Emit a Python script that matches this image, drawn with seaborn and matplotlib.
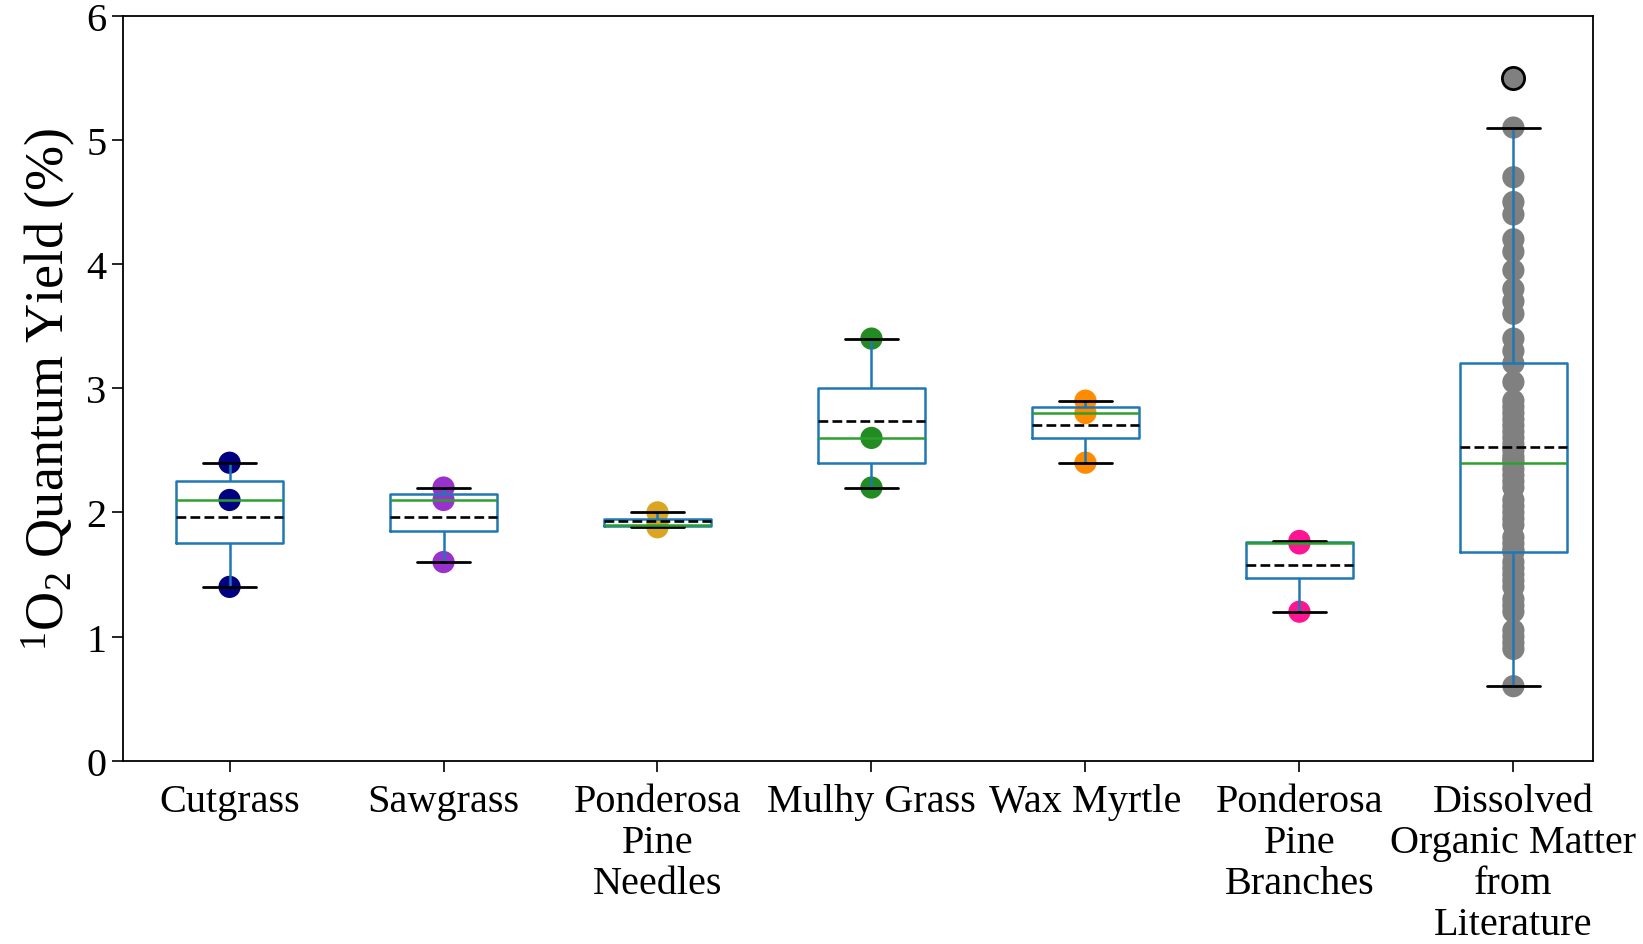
import numpy as np
import pandas as pd
import matplotlib
matplotlib.use("Agg")
import matplotlib.pyplot as plt
import seaborn as sns

categories = ["Cutgrass", "Sawgrass", "Ponderosa\nPine\nNeedles", "Mulhy Grass",
              "Wax Myrtle", "Ponderosa\nPine\nBranches",
              "Dissolved\nOrganic Matter\nfrom\nLiterature"]
cutgrass = [2.4, 2.1, 1.4]
sawgrass = [2.2, 2.1, 1.6]
pine_needles = [2.0, 1.9, 1.88]
mulhy_grass = [3.4, 2.6, 2.2]
wax_myrtle = [2.9, 2.8, 2.4]
pine_branches = [1.77, 1.75, 1.2]
dom_literature = [5.5, 5.1, 4.7, 4.5, 4.4, 4.2, 4.1, 3.95, 3.8, 3.7, 3.6, 3.4, 3.3,
                  3.2, 3.05, 2.9, 2.85, 2.8, 2.75, 2.7, 2.65, 2.6, 2.55, 2.5, 2.45, 2.42,
                  2.4, 2.35, 2.3, 2.25, 2.2, 2.1, 2.05, 2.0, 1.95, 1.9, 1.8, 1.75, 1.7,
                  1.68, 1.6, 1.55, 1.5, 1.45, 1.4, 1.3, 1.25, 1.2, 1.05, 1.0, 0.95, 0.9, 0.6]
point_colors = ["navy", "darkorchid", "goldenrod", "forestgreen", "darkorange",
                "deeppink", "gray"]

series = [cutgrass, sawgrass, pine_needles, mulhy_grass, wax_myrtle, pine_branches, dom_literature]
df = pd.DataFrame({
    "cat": np.concatenate([[c] * len(s) for c, s in zip(categories, series)]),
    "val": np.concatenate(series),
})

sns.set_style("ticks")
plt.rcParams["font.family"] = ["Liberation Serif", "DejaVu Serif"]
plt.rcParams["mathtext.fontset"] = "custom"
plt.rcParams["mathtext.rm"] = "Liberation Serif"
plt.rcParams["mathtext.it"] = "Liberation Serif:italic"
for k in ["text.color", "axes.labelcolor", "xtick.color", "ytick.color",
          "xtick.labelcolor", "ytick.labelcolor", "axes.edgecolor"]:
    plt.rcParams[k] = "black"

fig = plt.figure(figsize=(16.43, 9.45), dpi=100)
ax = fig.add_axes([0.0746, 0.194, 0.8947, 0.7882])

sns.stripplot(data=df, x="cat", y="val", hue="cat", order=categories, hue_order=categories,
              palette=point_colors, jitter=False, size=16, linewidth=0, legend=False,
              ax=ax, zorder=1)

sns.boxplot(data=df, x="cat", y="val", order=categories, fill=False, color="#1f77b4",
            width=0.5, whis=1.5, linewidth=1.8, ax=ax,
            showmeans=True, meanline=True,
            boxprops=dict(color="#1f77b4", linewidth=1.8),
            whiskerprops=dict(color="#1f77b4", linewidth=1.8),
            capprops=dict(color="black", linewidth=2.0),
            medianprops=dict(color="#2ca02c", linewidth=1.8),
            meanprops=dict(color="black", linestyle="--", linewidth=1.9),
            flierprops=dict(marker="o", markerfacecolor="gray", markeredgecolor="black",
                            markersize=16, markeredgewidth=2))

ax.set_xlim(-0.5, 6.37)
ax.set_ylim(0, 6)
ax.set_yticks([0, 1, 2, 3, 4, 5, 6])
ax.set_xlabel("")
ax.set_ylabel(r"$^{1}$O$_{2}$ Quantum Yield (%)", fontsize=39, labelpad=6, color="black")
ax.tick_params(axis="both", labelsize=29, length=8, width=1.2, color="black",
               labelcolor="black")
ax.tick_params(axis="x", pad=8)
for lbl in ax.get_xticklabels():
    lbl.set_linespacing(1.15)
for s in ax.spines.values():
    s.set_visible(True)
    s.set_linewidth(1.3)
    s.set_color("black")

fig.savefig("out.png", dpi=100)
